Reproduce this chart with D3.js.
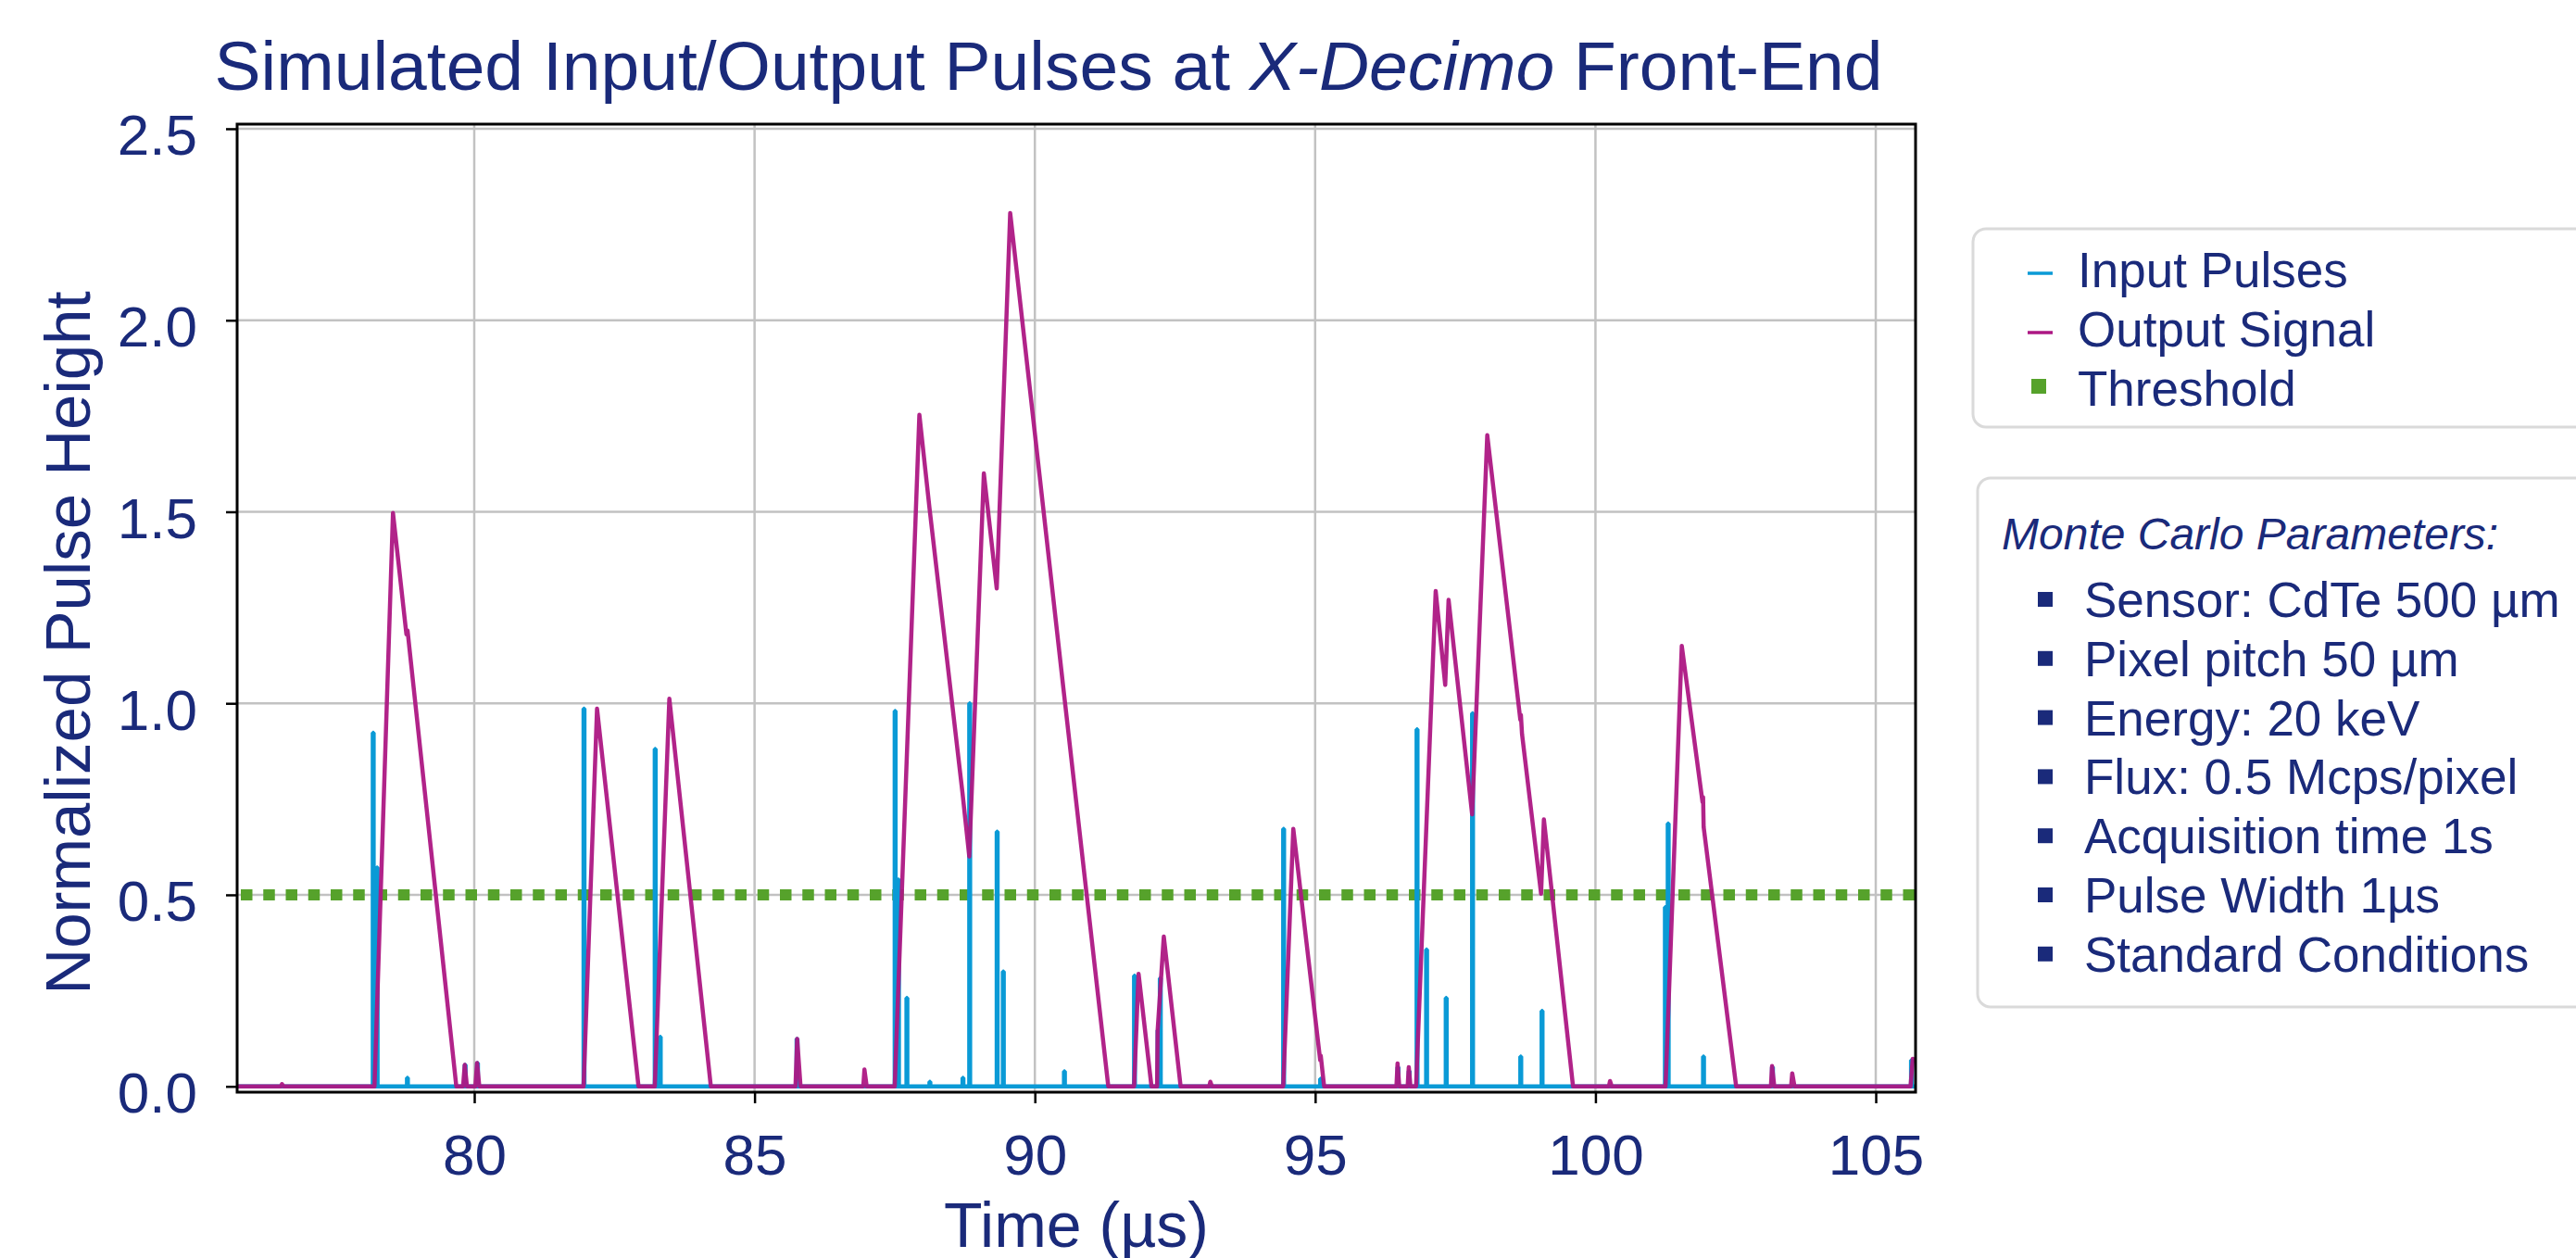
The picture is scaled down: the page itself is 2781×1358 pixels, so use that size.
<!DOCTYPE html>
<html>
<head>
<meta charset="utf-8">
<script src="https://cdn.jsdelivr.net/npm/d3@7"></script>
<style>
body { margin: 0; background: #fff; }
svg { display: block; font-family: "Liberation Sans", Arial, sans-serif; }
</style>
</head>
<body>
<svg id="chart"></svg>
<script>
var width = 2781,
    height = 1358;

// Input pulses: arrival time (us) and normalized height.
var inputTimes   = [78.19, 78.26, 78.80, 79.83, 80.05, 81.95, 83.22, 83.31, 85.75, 87.50, 87.56, 87.71,
                    88.12, 88.71, 88.83, 89.32, 89.43, 90.52, 91.77, 92.19, 92.23, 94.43, 95.09, 96.47,
                    96.67, 96.81, 96.98, 97.33, 97.80, 98.66, 99.04, 101.24, 101.29, 101.92, 103.15, 105.63];
var inputHeights = [0.923, 0.571, 0.022, 0.056, 0.061, 0.986, 0.881, 0.129, 0.124, 0.980, 0.540, 0.231,
                    0.012, 0.022, 1.000, 0.665, 0.300, 0.039, 0.289, 0.146, 0.282, 0.672, 0.020, 0.050,
                    0.040, 0.932, 0.357, 0.231, 0.974, 0.078, 0.197, 0.468, 0.686, 0.078, 0.050, 0.068];

// Output signal vertices.
var outputTimes  = [75.70, 76.55, 76.57, 76.60, 78.22, 78.55, 78.79, 78.81, 79.68, 79.80, 79.83, 79.87,
                    80.02, 80.05, 80.09, 81.95, 82.19, 82.93, 83.22, 83.48, 84.22, 85.73, 85.76, 85.82,
                    86.94, 86.96, 87.00, 87.50, 87.94, 88.12, 88.71, 88.83, 89.09, 89.32, 89.56, 90.52,
                    91.31, 91.77, 91.85, 92.08, 92.18, 92.19, 92.30, 92.60, 93.11, 93.13, 93.16, 94.43,
                    94.61, 95.09, 95.10, 95.16, 96.45, 96.47, 96.50, 96.65, 96.67, 96.70, 96.80, 97.15,
                    97.32, 97.38, 97.80, 98.07, 98.66, 98.67, 98.69, 99.03, 99.08, 99.60, 100.24, 100.26,
                    100.29, 101.25, 101.54, 101.91, 101.92, 101.93, 102.51, 103.13, 103.15, 103.19, 103.49, 103.51,
                    103.55, 105.62, 105.66, 105.80];
var outputValues = [0, 0, 0.006, 0, 0, 1.497, 1.18, 1.19, 0, 0, 0.056, 0,
                    0, 0.061, 0, 0, 0.986, 0, 0, 1.012, 0, 0, 0.124, 0,
                    0, 0.044, 0, 0, 1.753, 1.51, 0.765, 0.60, 1.60, 1.30, 2.28, 1.025,
                    0, 0, 0.294, 0, 0, 0.146, 0.391, 0, 0, 0.012, 0, 0,
                    0.672, 0.068, 0.08, 0, 0, 0.06, 0, 0, 0.05, 0, 0, 1.293,
                    1.048, 1.27, 0.71, 1.70, 0.957, 0.97, 0.92, 0.503, 0.697, 0, 0, 0.014,
                    0, 0, 1.15, 0.742, 0.755, 0.677, 0, 0, 0.053, 0, 0, 0.034,
                    0, 0, 0.072, 0.06];

var thresholdLevel = 0.5;
var xTicks = [80, 85, 90, 95, 100, 105];
var yTicks = [0.0, 0.5, 1.0, 1.5, 2.0, 2.5];
var legendLabels = ["Input Pulses", "Output Signal", "Threshold"];
var paramTitle = "Monte Carlo Parameters:";
var paramLines = ["Sensor: CdTe 500 \u00b5m", "Pixel pitch 50 \u00b5m", "Energy: 20 keV",
                  "Flux: 0.5 Mcps/pixel", "Acquisition time 1s", "Pulse Width 1\u00b5s",
                  "Standard Conditions"];

var navy = "#1a2a7a",
    cyan = "#0a9ad6",
    magenta = "#ad1783",
    green = "#56a22b";

var plot = {left: 256, right: 2068, top: 134, bottom: 1179};

var svg = d3.select("#chart")
    .attr("width", width)
    .attr("height", height);

var x = d3.scaleLinear().domain([75.77, 105.71]).range([plot.left, plot.right]);
var y = d3.scaleLinear().domain([-0.0152, 2.512]).range([plot.bottom, plot.top]);

svg.append("defs").append("clipPath")
    .attr("id", "plot-clip")
    .append("rect")
        .attr("x", plot.left)
        .attr("y", plot.top)
        .attr("width", plot.right - plot.left)
        .attr("height", plot.bottom - plot.top);

// Grid
var grid = svg.append("g").attr("class", "grid");
grid.selectAll("line.gx").data(xTicks).enter().append("line")
    .attr("x1", d => x(d)).attr("x2", d => x(d))
    .attr("y1", plot.top).attr("y2", plot.bottom)
    .attr("stroke", "#c2c2c2").attr("stroke-width", 2.5);
grid.selectAll("line.gy").data(yTicks).enter().append("line")
    .attr("x1", plot.left).attr("x2", plot.right)
    .attr("y1", d => y(d)).attr("y2", d => y(d))
    .attr("stroke", "#c2c2c2").attr("stroke-width", 2.5);

var data_layer = svg.append("g").attr("clip-path", "url(#plot-clip)");

// Threshold
data_layer.append("line")
    .attr("x1", plot.left).attr("x2", plot.right)
    .attr("y1", y(thresholdLevel)).attr("y2", y(thresholdLevel))
    .attr("stroke", green)
    .attr("stroke-width", 12)
    .attr("stroke-dasharray", "12.5 11.75")
    .attr("stroke-dashoffset", -4);

// Input pulses: narrow spikes from baseline
var inputPoints = [[x.domain()[0] - 0.1, 0]];
inputTimes.forEach((t, i) => {
    inputPoints.push([t, 0], [t, inputHeights[i]], [t + 0.015, inputHeights[i]], [t + 0.015, 0]);
});
inputPoints.push([x.domain()[1] + 0.1, 0]);

var line = d3.line()
    .x(d => x(d[0]))
    .y(d => y(d[1]));

data_layer.append("path")
    .datum(inputPoints)
    .attr("fill", "none")
    .attr("stroke", cyan)
    .attr("stroke-width", 4.5)
    .attr("stroke-linejoin", "bevel")
    .attr("d", line);

var outputPoints = outputTimes.map((t, i) => [t, outputValues[i]]);

data_layer.append("path")
    .datum(outputPoints)
    .attr("fill", "none")
    .attr("stroke", magenta)
    .attr("stroke-opacity", 0.95)
    .attr("stroke-width", 4.5)
    .attr("stroke-linejoin", "round")
    .attr("d", line);

// Axes
var xAxis = svg.append("g")
    .attr("transform", "translate(0," + plot.bottom + ")")
    .call(d3.axisBottom(x).tickValues(xTicks).tickSize(12).tickPadding(33).tickFormat(d3.format("d")));
var yAxis = svg.append("g")
    .attr("transform", "translate(" + plot.left + ",0)")
    .call(d3.axisLeft(y).tickValues(yTicks).tickSize(12).tickPadding(31).tickFormat(d3.format(".1f")));

[xAxis, yAxis].forEach(function(a) {
    a.select(".domain").remove();
    a.selectAll(".tick line").attr("stroke", "#000").attr("stroke-width", 2.5);
    a.selectAll(".tick text")
        .attr("fill", navy)
        .style("font-size", "62px")
        .style("font-family", "'Liberation Sans', Arial, sans-serif");
});
yAxis.selectAll(".tick text").attr("dy", "0.45em");

// Frame
svg.append("rect")
    .attr("x", plot.left).attr("y", plot.top)
    .attr("width", plot.right - plot.left)
    .attr("height", plot.bottom - plot.top)
    .attr("fill", "none")
    .attr("stroke", "#000")
    .attr("stroke-width", 3);

// Title
var title = svg.append("text")
    .attr("x", 1132).attr("y", 97)
    .attr("text-anchor", "middle")
    .attr("fill", navy)
    .style("font-size", "75px");
title.append("tspan").text("Simulated Input/Output Pulses at ");
title.append("tspan").style("font-style", "italic").text("X-Decimo");
title.append("tspan").text(" Front-End");

// Axis labels
svg.append("text")
    .attr("x", (plot.left + plot.right) / 2).attr("y", 1346)
    .attr("text-anchor", "middle")
    .attr("fill", navy)
    .style("font-size", "68px")
    .text("Time (\u00b5s)");

svg.append("text")
    .attr("transform", "translate(97,694) rotate(-90)")
    .attr("text-anchor", "middle")
    .attr("fill", navy)
    .style("font-size", "69px")
    .text("Normalized Pulse Height");

// Legend box
var legend = svg.append("g");
legend.append("rect")
    .attr("x", 2130).attr("y", 247)
    .attr("width", 720).attr("height", 214)
    .attr("rx", 14)
    .attr("fill", "#fff")
    .attr("stroke", "#dadada")
    .attr("stroke-width", 3);

var rowY = d3.scaleLinear().domain([0, 1]).range([310, 374]);
var legendColors = [cyan, magenta, green];

legend.selectAll("text.leg").data(legendLabels).enter().append("text")
    .attr("x", 2243)
    .attr("y", (d, i) => rowY(i))
    .attr("fill", navy)
    .style("font-size", "53px")
    .text(d => d);

legend.selectAll("line.leg").data(legendLabels.slice(0, 2)).enter().append("line")
    .attr("x1", 2189).attr("x2", 2216)
    .attr("y1", (d, i) => rowY(i) - 15).attr("y2", (d, i) => rowY(i) - 15)
    .attr("stroke", (d, i) => legendColors[i])
    .attr("stroke-width", 3.5);

legend.append("rect")
    .attr("x", 2193).attr("y", rowY(2) - 29)
    .attr("width", 16).attr("height", 16)
    .attr("fill", green);

// Parameter box
var params = svg.append("g");
params.append("rect")
    .attr("x", 2135).attr("y", 516)
    .attr("width", 720).attr("height", 571)
    .attr("rx", 14)
    .attr("fill", "#fff")
    .attr("stroke", "#dadada")
    .attr("stroke-width", 3);

params.append("text")
    .attr("x", 2161).attr("y", 593)
    .attr("fill", navy)
    .style("font-size", "48px")
    .style("font-style", "italic")
    .text(paramTitle);

var paramY = d3.scaleLinear().domain([0, 1]).range([666, 729.8]);

params.selectAll("rect.bullet").data(paramLines).enter().append("rect")
    .attr("x", 2200)
    .attr("y", (d, i) => paramY(i) - 27)
    .attr("width", 16).attr("height", 16)
    .attr("fill", navy);

params.selectAll("text.item").data(paramLines).enter().append("text")
    .attr("x", 2250)
    .attr("y", (d, i) => paramY(i))
    .attr("fill", navy)
    .style("font-size", "53px")
    .text(d => d);
</script>
</body>
</html>
